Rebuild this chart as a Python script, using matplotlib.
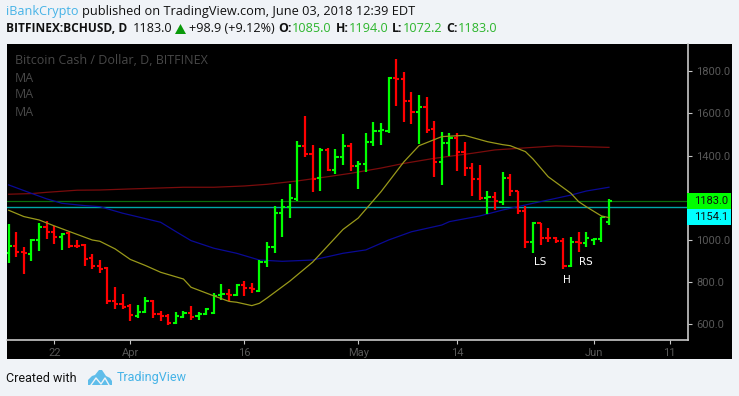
import matplotlib
matplotlib.use('Agg')
import matplotlib.pyplot as plt
from matplotlib.patches import Rectangle, Polygon

W, H = 739, 396

opens = [940, 972, 945, 934, 1000, 1063, 1037, 1016, 1032, 972,
         976, 913, 877, 866, 711, 698, 687, 640, 657, 711,
         651, 642, 607, 637, 656, 640, 649, 654, 738, 744,
         739, 785, 774, 758, 897, 968, 1129, 1158, 1194, 1447,
         1408, 1294, 1427, 1332, 1395, 1446, 1351, 1360, 1466, 1518,
         1518, 1768, 1763, 1660, 1608, 1632, 1525, 1371, 1461, 1482,
         1419, 1340, 1288, 1199, 1205, 1182, 1292, 1234, 1139, 992,
         1079, 1011, 1011, 997, 877, 992, 987, 1000, 1003, 1085]
highs = [1076, 1038, 965, 1003, 1079, 1089, 1068, 1032, 1040, 1000,
         981, 934, 905, 871, 777, 743, 697, 692, 730, 716,
         662, 648, 657, 662, 687, 660, 678, 747, 790, 766,
         790, 804, 795, 905, 992, 1161, 1194, 1264, 1468, 1588,
         1449, 1434, 1434, 1430, 1502, 1458, 1373, 1506, 1558, 1553,
         1771, 1856, 1795, 1700, 1686, 1676, 1562, 1510, 1506, 1506,
         1463, 1364, 1355, 1231, 1226, 1321, 1313, 1234, 1161, 1087,
         1079, 1057, 1016, 1008, 1013, 1036, 1036, 1011, 1110, 1194]
lows = [893, 921, 841, 902, 950, 1006, 983, 954, 964, 961,
        879, 864, 845, 695, 672, 675, 616, 632, 653, 629,
        616, 599, 604, 632, 623, 623, 643, 651, 717, 713,
        736, 736, 749, 755, 871, 940, 1016, 1103, 1186, 1392,
        1229, 1234, 1325, 1314, 1355, 1329, 1243, 1324, 1446, 1452,
        1509, 1637, 1561, 1551, 1457, 1509, 1300, 1262, 1398, 1329,
        1305, 1210, 1190, 1125, 1142, 1166, 1210, 1123, 963, 940,
        976, 992, 984, 863, 871, 945, 968, 976, 989, 1072.2]
closes = [972, 945, 937, 1000, 1063, 1037, 1016, 1029, 970, 970,
          910, 877, 864, 711, 698, 684, 645, 660, 711, 651,
          642, 605, 642, 656, 637, 648, 672, 736, 743, 739,
          787, 774, 766, 897, 968, 1129, 1158, 1197, 1446, 1408,
          1291, 1427, 1332, 1395, 1446, 1351, 1360, 1466, 1518, 1521,
          1768, 1763, 1660, 1608, 1632, 1521, 1371, 1461, 1485, 1419,
          1340, 1288, 1198, 1205, 1186, 1292, 1234, 1137, 992, 1079,
          1011, 1010, 997, 877, 992, 987, 1008, 1003, 1108, 1183]

ma_olive_days = [0, 2, 4, 6, 8, 11, 12, 14, 16, 18, 20, 23, 24, 27, 29, 30, 32, 33, 34, 37,
                 39, 40, 44, 46, 49, 52, 54, 57, 60, 63, 65, 66, 68, 69, 71, 74, 75, 76, 78, 79]
ma_olive = [1141, 1111, 1095, 1067, 1040, 1000, 994, 958, 908, 879, 847, 815, 776, 735, 709, 705, 689, 700, 725, 805,
            865, 895, 1050, 1104, 1229, 1370, 1447, 1490, 1496, 1466, 1452, 1447, 1419, 1384, 1300, 1221, 1182, 1158, 1114, 1106]
ma_blue_days = [0, 3, 5, 7, 10, 12, 15, 20, 22, 24, 27, 30, 33, 36, 40, 44, 47, 50, 53, 57, 58, 62, 65, 69, 74, 76, 79]
ma_blue = [1261, 1221, 1195, 1174, 1163, 1158, 1127, 1084, 1040, 997, 961, 937, 905, 899, 905, 937, 953, 1000, 1039, 1071, 1087, 1114, 1142, 1174, 1213, 1232, 1250]
ma_red_days = [0, 3, 5, 9, 12, 16, 23, 27, 31, 34, 38, 42, 45, 49, 52, 56, 61, 64, 69, 72, 79]
ma_red = [1217, 1220, 1226, 1236, 1237, 1242, 1250, 1250, 1256, 1264, 1280, 1300, 1316, 1341, 1363, 1387, 1411, 1427, 1439, 1446, 1439]

price_ticks = [600, 800, 1000, 1200, 1400, 1600, 1800]
# the 1200 label sits under the price tags
price_labels = ['600.0', '800.0', '1000.0', '', '1400.0', '1600.0', '1800.0']
date_ticks = [6, 16, 31, 46, 59, 77, 87]
date_labels = ['22', 'Apr', '16', 'May', '14', 'Jun', '11']
last_close = 1183.0
other_price = 1154.1


def fx(x):
    return x / W


def fy(y):
    return 1 - y / H


def box(x0, y0, x1, y1, color, z=0):
    fig.add_artist(Rectangle((fx(x0), fy(y1)), (x1 - x0) / W, (y1 - y0) / H, transform=fig.transFigure,
                             facecolor=color, edgecolor='none', zorder=z))


def label(x, y, s, color='#111111', size=8.8, weight='normal', ha='left', family='Open Sans', z=6):
    fig.text(fx(x), fy(y), s, color=color, fontsize=size, fontweight=weight, ha=ha, va='center', family=family, zorder=z)


fig = plt.figure(figsize=(W / 100, H / 100), dpi=100, facecolor='#f0f3f7')
box(7, 44, 732, 359, 'black')

ax = fig.add_axes([fx(7), fy(340), 681 / W, 296 / H], facecolor='black', zorder=2)
ax.set_xlim(-0.22, 89.4)
ax.set_ylim(526, 1929)

ax.axhline(last_close, color='#0a6e0a', lw=0.9, zorder=1)
ax.axhline(other_price, color='#00a6a6', lw=1.0, zorder=1)
ax.plot(ma_red_days, ma_red, color='#7a0c0c', lw=0.9, zorder=2)
ax.plot(ma_blue_days, ma_blue, color='#0a0a96', lw=0.9, zorder=2)
ax.plot(ma_olive_days, ma_olive, color='#99991a', lw=0.9, zorder=4)

for i, (o, h, l, c) in enumerate(zip(opens, highs, lows, closes)):
    col = '#00ff00' if c >= o else '#ff0000'
    ax.vlines(i, l, h, color=col, lw=1.6, zorder=3)
    ax.hlines(o, i - 0.42, i, color=col, lw=1.5, zorder=3)
    ax.hlines(c, i, i + 0.42, color=col, lw=1.5, zorder=3)

ax.text(69.9, 896, 'LS', color='white', fontsize=7.5, ha='center', va='center', family='DejaVu Sans', zorder=5)
ax.text(76, 896, 'RS', color='white', fontsize=7.5, ha='center', va='center', family='DejaVu Sans', zorder=5)
ax.text(73.4, 810, 'H', color='white', fontsize=7.5, ha='center', va='center', family='DejaVu Sans', zorder=5)

ax.spines['top'].set_visible(False)
ax.spines['left'].set_visible(False)
ax.spines['bottom'].set_color('#c8c8c8')
ax.spines['right'].set_color('#c8c8c8')
ax.spines['bottom'].set_linewidth(1.2)
ax.spines['right'].set_linewidth(1.2)
ax.yaxis.tick_right()
ax.set_yticks(price_ticks)
ax.set_yticklabels(price_labels)
ax.set_xticks(date_ticks)
ax.set_xticklabels(date_labels)
ax.tick_params(axis='both', colors='#c8c8c8', length=3, width=0.8, labelcolor='#585858', labelsize=8)
ax.tick_params(axis='y', pad=3)
ax.tick_params(axis='x', pad=3)
for t in ax.get_xticklabels() + ax.get_yticklabels():
    t.set_family('Roboto')

# chart legend
label(15, 60, 'Bitcoin Cash / Dollar, D, BITFINEX', color='#484848', size=9)
label(15, 78, 'MA', color='#484848', size=9)
label(15, 95, 'MA', color='#484848', size=9)
label(15, 112, 'MA', color='#484848', size=9)

# price tags
box(687, 193, 731, 209, '#00ff00', 5)
box(687, 209, 731, 225, '#00ffff', 5)
label(728, 201, '%.1f' % last_close, color='#101010', size=8, ha='right', family='Roboto')
label(728, 217, '%.1f' % other_price, color='#101010', size=8, ha='right', family='Roboto')

# header
blue = '#45b3e7'
green = '#2cb52c'
label(6, 12, 'iBankCrypto', color=blue, size=9.1)
label(82, 12, 'published on TradingView.com, June 03, 2018 12:39 EDT', size=9.15)
label(6, 29, 'BITFINEX:BCHUSD, D', size=8.6, weight='bold')
label(133, 29, '1183.0', size=9.1)
fig.add_artist(Polygon([[fx(175), fy(34)], [fx(186), fy(34)], [fx(180.5), fy(24)]], transform=fig.transFigure,
                       facecolor='#0a9a0a', edgecolor='none'))
label(189, 29, '+98.9 (+9.12%)', size=9.1)
for x, s in [(278, 'O:'), (336, 'H:'), (392, 'L:'), (446, 'C:')]:
    label(x, 29, s, weight='bold')
for x, s in [(292, '1085.0'), (349, '1194.0'), (403, '1072.2'), (458, '1183.0')]:
    label(x, 29, s, color=green, size=9.1)

# footer
label(6, 378, 'Created with', size=9, family='Roboto')
cloud = [[88, 385], [88, 380], [92, 376], [95, 375], [99, 370], [102, 370], [106, 376], [110, 378], [112, 381], [112, 385]]
fig.add_artist(Polygon([[fx(x), fy(y)] for x, y in cloud], transform=fig.transFigure, facecolor='#5fbdea', edgecolor='none', zorder=6))
zig = [[91, 385], [96, 378], [101, 384], [105, 378], [109, 385]]
fig.add_artist(plt.Line2D([fx(x) for x, y in zig], [fy(y) for x, y in zig], transform=fig.transFigure, color='#f0f3f7', lw=1.0, zorder=7))
label(117, 378, 'TradingView', color=blue, size=9, family='Roboto')

fig.savefig('out.png', dpi=100, facecolor=fig.get_facecolor())
